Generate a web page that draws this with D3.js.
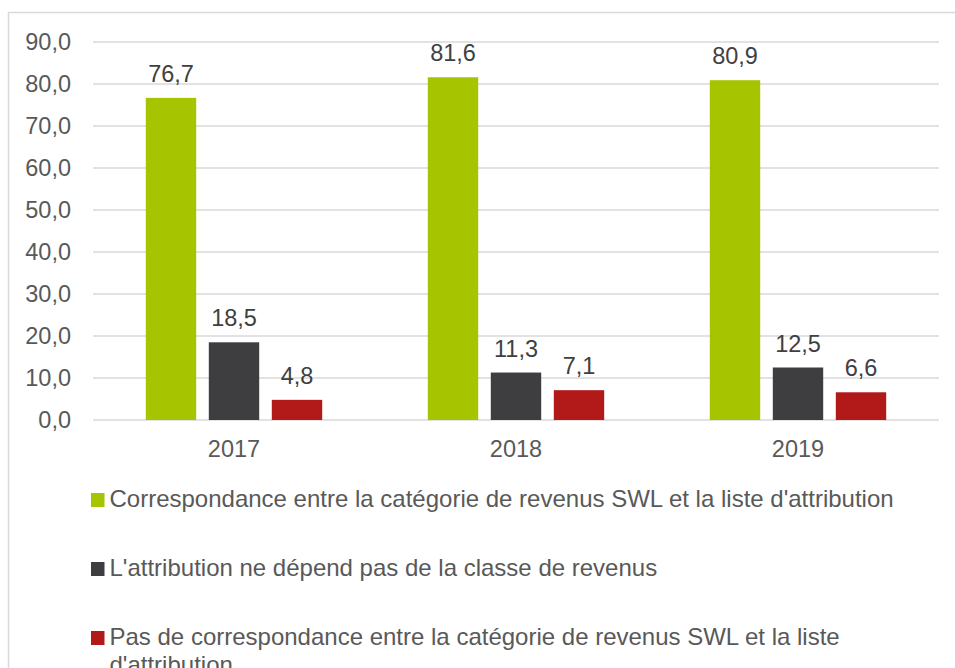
<!DOCTYPE html>
<html>
<head>
<meta charset="utf-8">
<script src="https://cdn.jsdelivr.net/npm/d3@7"></script>
<style>
  body { margin: 0; background: #fff; }
  text { font-family: "Liberation Sans", Arial, sans-serif; }
</style>
</head>
<body>
<div id="plotDiv"></div>
<script>
var years = ["2017", "2018", "2019"];
var seriesNames = [
    "Correspondance entre la catégorie de revenus SWL et la liste d'attribution",
    "L'attribution ne dépend pas de la classe de revenus",
    "Pas de correspondance entre la catégorie de revenus SWL et la liste d'attribution"
];
var correspondance = [76.7, 81.6, 80.9];
var independant = [18.5, 11.3, 12.5];
var pasCorrespondance = [4.8, 7.1, 6.6];
var yTicks = [0, 10, 20, 30, 40, 50, 60, 70, 80, 90];
var colors = ["#a6c400", "#3e3e40", "#b21a1a"];

var allSeries = [correspondance, independant, pasCorrespondance];

var svg = d3.select("#plotDiv").append("svg")
    .attr("width", 955)
    .attr("height", 668);

// chart frame
svg.append("rect")
    .attr("x", 8.5).attr("y", 12.5)
    .attr("width", 960).attr("height", 700)
    .attr("fill", "none").attr("stroke", "#d9d9d9").attr("stroke-width", 1.5);

var left = 93, right = 939;
var yScale = d3.scaleLinear().domain([0, 90]).range([420, 42]);
var x0 = d3.scaleBand().domain(years).range([left, right]);
var x1 = d3.scaleBand().domain([0, 1, 2]).range([-94.5, 94.5]).paddingInner(0.2).paddingOuter(0.1);

var fmt = function (v) { return d3.format(".1f")(v).replace(".", ","); };

// grid
svg.append("g").selectAll("line").data(yTicks).enter().append("line")
    .attr("x1", left).attr("x2", right)
    .attr("y1", function (d) { return yScale(d); })
    .attr("y2", function (d) { return yScale(d); })
    .attr("stroke", "#d9d9d9").attr("stroke-width", 1.3);

// y axis labels
var yAxis = d3.axisLeft(yScale).tickValues(yTicks).tickFormat(fmt).tickSize(0).tickPadding(0);
var yg = svg.append("g").attr("transform", "translate(71,0)").call(yAxis);
yg.select(".domain").remove();
yg.selectAll("text").attr("fill", "#595959").style("font-size", "23.5px")
    .style("font-family", "'Liberation Sans', Arial, sans-serif");

// x axis labels
var xAxis = d3.axisBottom(x0).tickSize(0).tickPadding(0);
var xg = svg.append("g").attr("transform", "translate(0,440)").call(xAxis);
xg.select(".domain").remove();
xg.selectAll("text").attr("fill", "#595959").style("font-size", "23.5px")
    .style("font-family", "'Liberation Sans', Arial, sans-serif");

// bars
var groups = svg.append("g").selectAll("g").data(years).enter().append("g")
    .attr("transform", function (d) { return "translate(" + (x0(d) + x0.bandwidth() / 2) + ",0)"; });

groups.each(function (year, yi) {
    var g = d3.select(this);
    var vals = allSeries.map(function (s, si) { return { si: si, v: s[yi] }; });
    g.selectAll("rect").data(vals).enter().append("rect")
        .attr("x", function (d) { return x1(d.si); })
        .attr("width", x1.bandwidth())
        .attr("y", function (d) { return yScale(d.v); })
        .attr("height", function (d) { return yScale(0) - yScale(d.v); })
        .attr("fill", function (d) { return colors[d.si]; });
    g.selectAll("text.val").data(vals).enter().append("text")
        .attr("class", "val")
        .attr("x", function (d) { return x1(d.si) + x1.bandwidth() / 2; })
        .attr("y", function (d) { return yScale(d.v) - 16; })
        .attr("text-anchor", "middle")
        .attr("fill", "#404040")
        .style("font-size", "23.5px")
        .text(function (d) { return fmt(d.v); });
});

// legend
var legendY = [507, 576, 645];
var legend = svg.append("g").selectAll("g").data(seriesNames).enter().append("g")
    .attr("transform", function (d, i) { return "translate(91," + legendY[i] + ")"; });
legend.append("rect")
    .attr("x", 0).attr("y", -14).attr("width", 13.5).attr("height", 14)
    .attr("fill", function (d, i) { return colors[i]; });
legend.append("text")
    .attr("x", 18.5).attr("y", 0)
    .attr("fill", "#595959")
    .style("font-size", "24px")
    .each(function (d, i) {
        var t = d3.select(this);
        if (i === 2) {
            t.append("tspan").attr("x", 18.5).attr("dy", 0).text("Pas de correspondance entre la catégorie de revenus SWL et la liste");
            t.append("tspan").attr("x", 18.5).attr("dy", 28).text("d'attribution");
        } else {
            t.text(d);
        }
    });
</script>
</body>
</html>
